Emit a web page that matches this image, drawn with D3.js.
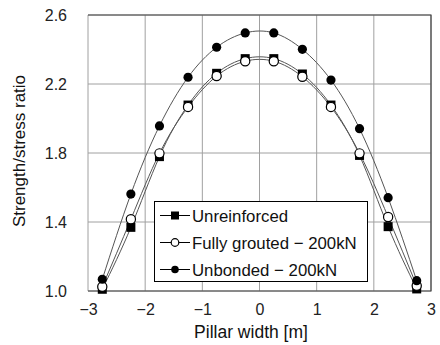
<!DOCTYPE html>
<html><head><meta charset="utf-8">
<script src="https://cdn.jsdelivr.net/npm/d3@7"></script>
<style>
body{margin:0;background:#fff;}
svg{display:block;font-family:"Liberation Sans",Arial,sans-serif;}
</style></head>
<body><svg id="c" width="440" height="345"></svg>
<script>
const xPos = [-2.75,-2.25,-1.75,-1.25,-0.75,-0.25,0.25,0.75,1.25,1.75,2.25,2.75];
const unreinforced = [1.01,1.369,1.779,2.078,2.262,2.347,2.347,2.258,2.078,1.786,1.373,1.012];
const fullyGrouted = [1.025,1.416,1.798,2.067,2.246,2.332,2.332,2.242,2.067,1.798,1.429,1.031];
const unbonded = [1.068,1.562,1.957,2.239,2.413,2.496,2.496,2.401,2.223,1.941,1.541,1.06];
const seriesNames = ["Unreinforced","Fully grouted \u2212 200kN","Unbonded \u2212 200kN"];
const xTicks = [-3,-2,-1,0,1,2,3];
const yTicks = [1.0,1.4,1.8,2.2,2.6];

const svg = d3.select("#c");
const L=88,R=431,T=15,B=291;
const x = d3.scaleLinear().domain([-3,3]).range([L,R]);
const y = d3.scaleLinear().domain([1.0,2.6]).range([B,T]);

// grid
svg.append("g").selectAll("line").data(xTicks).join("line")
  .attr("x1",d=>x(d)).attr("x2",d=>x(d)).attr("y1",T).attr("y2",B)
  .attr("stroke","#a0a0a0").attr("stroke-width",1);
svg.append("g").selectAll("line").data(yTicks).join("line")
  .attr("x1",L).attr("x2",R).attr("y1",d=>y(d)).attr("y2",d=>y(d))
  .attr("stroke","#a0a0a0").attr("stroke-width",1);
// frame (top, right, bottom dark)
svg.append("path").attr("d",`M${L},${T}H${R}V${B}H${L}`).attr("fill","none").attr("stroke","#444").attr("stroke-width",1.2);

// axes
const ax = svg.append("g").attr("transform",`translate(0,${B})`)
  .call(d3.axisBottom(x).tickValues(xTicks).tickSize(0).tickPadding(13).tickFormat(d3.format("d")));
ax.select(".domain").remove();
ax.selectAll("text").attr("font-size",16).attr("fill","#222").attr("font-family","Liberation Sans, Arial, sans-serif");
const ay = svg.append("g").attr("transform",`translate(${L},0)`)
  .call(d3.axisLeft(y).tickValues(yTicks).tickSize(0).tickPadding(21).tickFormat(d3.format(".1f")));
ay.select(".domain").remove();
ay.selectAll("text").attr("font-size",16).attr("fill","#222").attr("font-family","Liberation Sans, Arial, sans-serif");

svg.append("text").attr("x",251).attr("y",338).attr("text-anchor","middle")
  .attr("font-size",17.5).attr("fill","#111").text("Pillar width [m]");
svg.append("text").attr("transform","translate(25,151) rotate(-90)").attr("text-anchor","middle")
  .attr("font-size",17).attr("fill","#111").text("Strength/stress ratio");

const line = d3.line().x(d=>x(d[0])).y(d=>y(d[1])).curve(d3.curveNatural);
const seriesData = [unreinforced,fullyGrouted,unbonded].map(v=>xPos.map((p,i)=>[p,v[i]]));
seriesData.forEach(s=>{
  svg.append("path").datum(s).attr("d",line).attr("fill","none").attr("stroke","#555").attr("stroke-width",1);
});

function marker(g,type,cx,cy,sz){
  if(type===0){
    g.append("rect").attr("x",cx-sz).attr("y",cy-sz).attr("width",2*sz).attr("height",2*sz).attr("fill","#000");
  } else if(type===1){
    g.append("circle").attr("cx",cx).attr("cy",cy).attr("r",sz).attr("fill","#fff").attr("stroke","#000").attr("stroke-width",1.2);
  } else {
    g.append("circle").attr("cx",cx).attr("cy",cy).attr("r",sz).attr("fill","#000");
  }
}
const mg = svg.append("g");
seriesData.forEach((s,k)=>{
  s.forEach(d=>marker(mg,k,x(d[0]),y(d[1]),k===0?4.5:4.6));
});

// legend
const lg = svg.append("g");
lg.append("rect").attr("x",154.5).attr("y",201.5).attr("width",213).attr("height",80)
  .attr("fill","#fff").attr("stroke","#000").attr("stroke-width",1);
seriesNames.forEach((n,k)=>{
  const yy = 215.5 + k*27;
  lg.append("line").attr("x1",160).attr("x2",190).attr("y1",yy).attr("y2",yy).attr("stroke","#000").attr("stroke-width",1);
  marker(lg,k,175,yy,k===0?4:3.8);
  lg.append("text").attr("x",192).attr("y",yy+6).attr("font-size",16.8).attr("fill","#111").text(n);
});
</script></body></html>
